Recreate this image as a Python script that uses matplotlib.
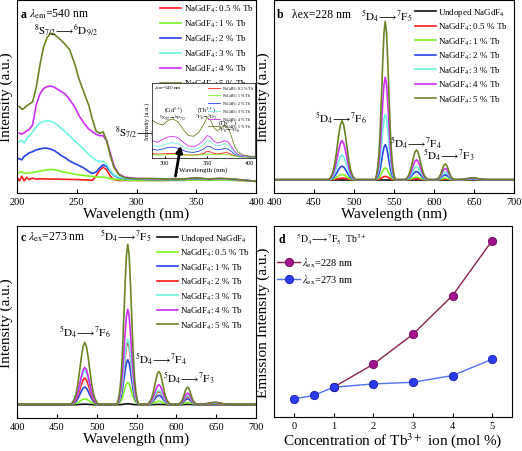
import numpy as np
import matplotlib
matplotlib.use("Agg")
from matplotlib import pyplot as plt

plt.rcParams['font.family'] = ['Liberation Serif', 'DejaVu Serif']
plt.rcParams['mathtext.fontset'] = 'stix'

# ---------------- panel a : excitation spectra (lambda_em = 540 nm) ----------------
a_x = [200, 202, 204, 206, 208, 210, 213, 216, 219, 222, 225, 228, 231, 234, 237, 240,
       244, 248, 252, 256, 260, 263, 266, 269, 272, 275, 278, 281, 285, 290, 300, 310,
       320, 330, 340, 350, 360, 370, 380, 390, 400]
a_05 = [8.2, 6.3, 8.7, 6.3, 8.1, 7.0, 7.7, 7.2, 7.4, 7.3, 7.3, 7.2, 7.2, 7.2, 7.1, 7.1,
        7.0, 7.0, 6.9, 6.8, 6.7, 6.5, 8.7, 11.7, 13.4, 12.0, 8.7, 7.0, 6.5, 6.5, 6.5, 6.5,
        6.5, 6.6, 6.6, 6.9, 6.6, 6.8, 6.6, 6.4, 6.0]
a_1 = [9.9, 10.8, 11.1, 10.1, 10.3, 10.5, 10.6, 11.0, 11.3, 11.7, 12.0, 12.2, 12.0, 11.7, 11.1, 10.8,
       10.3, 9.8, 9.4, 9.1, 8.7, 8.6, 8.4, 8.2, 8.2, 7.9, 7.4, 7.2, 6.9, 6.7, 6.5, 6.5,
       6.6, 6.6, 6.6, 6.8, 6.6, 6.7, 6.6, 6.4, 6.0]
a_2 = [18.0, 17.7, 17.2, 19.0, 19.7, 20.8, 21.4, 22.3, 22.8, 23.2, 23.2, 22.8, 22.0, 20.8, 19.4, 18.4,
       16.6, 15.3, 14.2, 12.9, 11.1, 10.1, 10.8, 12.9, 14.6, 13.7, 11.1, 9.1, 7.9, 7.4, 7.2, 7.0,
       7.0, 6.9, 7.0, 7.4, 7.0, 7.2, 7.0, 6.6, 6.1]
a_3 = [26.2, 26.6, 27.3, 25.9, 28.0, 29.3, 31.7, 34.0, 36.2, 37.0, 37.4, 37.2, 36.5, 35.2, 33.4, 31.9,
       29.7, 27.1, 25.0, 22.5, 20.1, 18.4, 17.0, 16.3, 16.5, 14.8, 11.7, 9.4, 8.2, 7.5, 7.4, 7.2,
       7.2, 7.1, 7.2, 7.6, 7.1, 7.3, 7.1, 6.6, 6.1]
a_4 = [31.4, 31.0, 30.5, 31.2, 32.1, 32.8, 35.2, 45.5, 51.1, 54.0, 55.1, 55.4, 54.9, 53.7, 52.5, 51.5,
       48.5, 44.8, 40.0, 36.2, 33.1, 31.7, 30.5, 29.7, 29.7, 27.1, 20.8, 14.2, 9.9, 8.2, 7.5, 7.4,
       7.3, 7.2, 7.3, 7.8, 7.2, 7.5, 7.3, 6.6, 6.1]
a_5 = [45.1, 44.8, 43.4, 43.9, 45.1, 46.0, 47.2, 54.5, 65.7, 75.1, 80.3, 82.8, 82.2, 80.8, 79.1, 77.2,
       74.3, 67.4, 58.8, 52.0, 45.5, 38.3, 32.2, 30.9, 31.7, 27.1, 19.4, 13.4, 9.6, 7.9, 7.4, 7.5,
       7.4, 7.2, 7.3, 7.9, 7.3, 7.6, 7.3, 6.7, 6.1]

# inset of panel a
in_x = [286, 292, 298, 304, 310, 316, 322, 328, 334, 340, 346, 350, 354, 358, 362, 366,
        370, 374, 378, 382, 386, 392, 400, 406]
in_05 = [6, 5, 5.5, 6, 6, 5.5, 4.5, 4, 4, 4.5, 6, 9, 8, 6, 5.5, 6, 7, 7, 5, 3, 2, 1.5, 1.2, 1]
in_1 = [4.5, 4, 4.3, 4.5, 4.6, 4.4, 4, 3.8, 3.7, 4, 4.5, 5.5, 5, 4.5, 4.2, 4.4, 4.8, 4.6, 3.5, 2.5,
        1.8, 1.3, 1, 0.9]
in_2 = [12, 10.5, 12, 14, 14.5, 13, 10, 8, 7.5, 9, 12, 16, 15, 12, 11, 11.5, 12.5, 12, 9, 5,
        3, 2, 1.5, 1.3]
in_3 = [17, 15, 17, 19.5, 20.5, 19, 15, 12, 11.5, 13.5, 18, 23, 22, 18, 16, 17, 19, 18, 13, 7,
        4, 2.5, 1.8, 1.5]
in_4 = [23, 21, 25, 28, 29, 27, 21, 16, 15, 18, 24, 30, 28, 22, 20, 21, 23, 22, 16, 9,
        5, 3, 2, 1.8]
in_5 = [50, 46, 44, 50, 52, 48, 38, 30, 29, 34, 45, 54, 50, 40, 36, 40, 44, 41, 30, 16,
        8, 4, 2.5, 2]

# ---------------- panels b, c : emission spectra ----------------
peak_centers = [485, 539, 578, 614, 648]
# normalised band profile, at offsets -1 .. 1 (step 1/8) of the band half-width
peak_profile = [0, 0.03, 0.08, 0.17, 0.32, 0.53, 0.75, 0.93, 1.0, 0.93, 0.75, 0.53, 0.32, 0.17, 0.08, 0.03, 0]
profile_offsets = [-1, -0.875, -0.75, -0.625, -0.5, -0.375, -0.25, -0.125, 0,
                   0.125, 0.25, 0.375, 0.5, 0.625, 0.75, 0.875, 1]

b_widths = [17, 12.5, 15, 12, 20]
b_base = [6.9, 6.9, 6.9, 6.9, 6.9, 6.9, 6.9]
b_heights = [
    [0, 0, 0, 0, 0],               # undoped
    [0.8, 1.7, 0.5, 0.3, 0.1],     # 0.5 %
    [2.7, 6.1, 1.3, 0.8, 0.2],     # 1 %
    [7.0, 18.1, 4.2, 2.5, 0.4],    # 2 %
    [12.8, 33.9, 6.8, 3.9, 0.6],   # 3 %
    [20.2, 53.1, 10.3, 5.8, 0.8],  # 4 %
    [30.5, 82.0, 15.4, 8.2, 1.0],  # 5 %
]
b_labels = ['Undoped NaGdF$_4$', 'NaGdF$_4$: 0.5 % Tb', 'NaGdF$_4$: 1 % Tb', 'NaGdF$_4$: 2 % Tb',
            'NaGdF$_4$: 3 % Tb', 'NaGdF$_4$: 4 % Tb', 'NaGdF$_4$: 5 % Tb']

c_widths = [17.5, 13.5, 15, 12, 20]
c_base = [6.9, 7.2, 7.2, 7.2, 7.2, 7.2, 7.2]
c_heights = [
    [0.3, 0.5, 0.2, 0.2, 0],       # undoped
    [2.7, 11.3, 1.5, 0.9, 0.2],    # 0.5 %
    [8.9, 23.1, 4.6, 2.8, 0.4],    # 1 %
    [13.6, 32.2, 6.6, 4.0, 0.5],   # 2 %
    [17.5, 33.8, 7.2, 4.6, 0.6],   # 3 %
    [19.1, 49.4, 10.1, 5.8, 0.8],  # 4 %
    [32.2, 83.3, 17.0, 8.9, 1.0],  # 5 %
]

# ---------------- panel d : intensity of 5D4->7F5 ----------------
conc_228 = [1, 2, 3, 4, 5]
int_228 = [15.6, 27.6, 43.3, 63.6, 92.4]
conc_273 = [0, 0.5, 1, 2, 3, 4, 5]
int_273 = [9.5, 11.3, 15.6, 17.3, 18.2, 21.7, 30.3]

RED = '#ff1a1a'
GRN = '#7cf522'
BLU = '#2342e8'
CYN = '#6cf7e0'
MAG = '#cf2cf5'
OLV = '#6b8423'
BLK = '#111111'
colors_a = [RED, GRN, BLU, CYN, MAG, OLV]
colors_b = [BLK, RED, GRN, BLU, CYN, MAG, OLV]
colors_c = [BLK, GRN, BLU, RED, CYN, MAG, OLV]


def spectrum(base, heights, widths):
    xs = [400]
    ys = [base]
    for cen, w, h in zip(peak_centers, widths, heights):
        for off, p in zip(profile_offsets, peak_profile):
            xs.append(cen + off * w)
            ys.append(base + h * p)
    xs.append(700)
    ys.append(base)
    return xs, ys


def style(ax, xlim, xticks):
    ax.set_xlim(*xlim)
    ax.set_ylim(0, 100)
    ax.set_xticks(xticks)
    ax.set_yticks([])
    ax.tick_params(axis='x', direction='in', length=3, labelsize=7.5, pad=3)
    for s in ax.spines.values():
        s.set_linewidth(0.8)


fig = plt.figure(figsize=(5.22, 4.52), dpi=100)
axa = fig.add_axes([0.0326, 0.5708, 0.458, 0.427])
axb = fig.add_axes([0.525, 0.5708, 0.4598, 0.427])
axc = fig.add_axes([0.0326, 0.073, 0.458, 0.4248])
axd = fig.add_axes([0.525, 0.0752, 0.456, 0.4226])

leg_kw = dict(frameon=False, fontsize=6.5, handlelength=2.3, handletextpad=0.3,
              labelspacing=0.42, borderaxespad=0.2, borderpad=0.1, loc='upper right')
leg_kw2 = dict(leg_kw, labelspacing=0.36, borderaxespad=0.55)

# ----- a -----
a_series = [a_05, a_1, a_2, a_3, a_4, a_5]
for ys, col, lab in zip(a_series, colors_a, b_labels[1:]):
    axa.plot(a_x, ys, color=col, lw=1.2, label=lab)
style(axa, (200, 400), [200, 250, 300, 350, 400])
axa.legend(**leg_kw)
axa.set_xlabel('Wavelength (nm)', fontsize=11, labelpad=0)
axa.set_ylabel('Intensity (a.u.)', fontsize=11, labelpad=3)
axa.text(203, 93, 'a', fontsize=8.5, fontweight='bold', va='center')
axa.text(210, 93, r'$\lambda_{\mathrm{em}}$=540 nm', fontsize=8.5, va='center')
axa.text(214, 85, r'$^{8}\mathrm{S}_{7/2}\!\longrightarrow\!^{6}\mathrm{D}_{9/2}$', fontsize=8, va='center')
axa.text(282, 31.5, r'$^{8}\mathrm{S}_{7/2}\!\longrightarrow\!^{6}\mathrm{I}_{7/2}$', fontsize=8, va='center')

# inset
axi = fig.add_axes([0.2906, 0.6482, 0.198, 0.166])
in_series = [in_05, in_1, in_2, in_3, in_4, in_5]
for ys, col, lab in zip(in_series, colors_a, b_labels[1:]):
    axi.plot(in_x, ys, color=col, lw=0.6, label=lab)
axi.set_xlim(285, 406)
axi.set_ylim(0, 100)
axi.set_xticks([300, 350, 400])
axi.set_yticks([])
axi.tick_params(axis='x', direction='in', length=1.5, labelsize=4.5, pad=1.5)
for s in axi.spines.values():
    s.set_linewidth(0.5)
axi.set_xlabel('Wavelength (nm)', fontsize=5, labelpad=0.5)
axi.set_ylabel('Intensity (a.u.)', fontsize=4.5, labelpad=1)
axi.legend(frameon=False, fontsize=2.9, handlelength=3.2, handletextpad=0.3, labelspacing=0.02,
           loc='upper right', borderaxespad=0.2, borderpad=0.1)
axi.text(288, 94, r'$\lambda_{\mathrm{em}}$=540 nm', fontsize=3.8, va='center')
axi.text(311, 64, r'(Gd$^{3+}$)', fontsize=4.3, ha='center', va='center')
axi.text(309, 55, r'$^{8}\mathrm{S}_{7/2}\!\rightarrow\!^{6}\mathrm{P}_{7/2}$', fontsize=3.8, ha='center', va='center')
axi.text(349, 64, r'(Tb$^{3+}$)', fontsize=4.3, ha='center', va='center')
axi.text(348, 56, r'$^{7}\mathrm{F}_{6}\!\rightarrow\!^{5}\mathrm{D}_{2}$', fontsize=3.8, ha='center', va='center')
axi.text(374, 47, r'(Tb$^{3+}$)', fontsize=4.3, ha='center', va='center')
axi.text(376, 39, r'$^{7}\mathrm{F}_{6}\!\rightarrow\!^{5}\mathrm{G}_{6}$', fontsize=3.8, ha='center', va='center')
arr = axi.annotate('', xy=(337.2, 25.9), xycoords=axa.transData, xytext=(332.2, 7.3),
                   textcoords=axa.transData, annotation_clip=False,
                   arrowprops=dict(arrowstyle='-|>', color='k', lw=2, mutation_scale=9))
arr.arrow_patch.set_clip_on(False)

# ----- b -----
for base, hts, col, lab in zip(b_base, b_heights, colors_b, b_labels):
    xs, ys = spectrum(base, hts, b_widths)
    axb.plot(xs, ys, color=col, lw=1.2, label=lab)
style(axb, (400, 700), [400, 450, 500, 550, 600, 650, 700])
axb.legend(**leg_kw2)
axb.set_xlabel('Wavelength (nm)', fontsize=11, labelpad=0)
axb.set_ylabel('Intensity (a.u.)', fontsize=11, labelpad=3)
axb.text(404, 93, 'b', fontsize=8.5, fontweight='bold', va='center')
axb.text(422, 93, 'λex=228 nm', fontsize=8.5, va='center')
t54 = r'$^{5}\mathrm{D}_{4}\!\longrightarrow\!^{7}\mathrm{F}_{%s}$'
axb.text(541, 92, t54 % '5', fontsize=8, ha='center', va='center')
axb.text(484, 39, t54 % '6', fontsize=8, ha='center', va='center')
axb.text(577, 26, t54 % '4', fontsize=8, ha='center', va='center')
axb.text(618, 20, t54 % '3', fontsize=8, ha='center', va='center')

# ----- c -----
for base, hts, col, lab in zip(c_base, c_heights, colors_c, b_labels):
    xs, ys = spectrum(base, hts, c_widths)
    axc.plot(xs, ys, color=col, lw=1.2, label=lab)
style(axc, (400, 700), [400, 450, 500, 550, 600, 650, 700])
axc.legend(**leg_kw2)
axc.set_xlabel('Wavelength (nm)', fontsize=11, labelpad=0)
axc.set_ylabel('Intensity (a.u.)', fontsize=11, labelpad=3)
axc.text(405, 94.5, 'c', fontsize=8.5, fontweight='bold', va='center')
axc.text(414, 94.5, r'$\lambda_{\mathrm{ex}}$=273 nm', fontsize=8.5, va='center')
axc.text(537, 95, t54 % '5', fontsize=8, ha='center', va='center')
axc.text(485, 45, t54 % '6', fontsize=8, ha='center', va='center')
axc.text(580, 31, t54 % '4', fontsize=8, ha='center', va='center')
axc.text(615, 21, t54 % '3', fontsize=8, ha='center', va='center')

# ----- d -----
axd.plot(conc_228, int_228, color='#8a2050', lw=1.0, marker='o', ms=6,
         mfc='#a3128f', mec='#6a0a5c', mew=0.6, label=r'$\lambda_{\mathrm{ex}}$=228 nm')
axd.plot(conc_273, int_273, color='#4f72f2', lw=1.0, marker='o', ms=6,
         mfc='#2b3cf0', mec='#1a1fa8', mew=0.6, label=r'$\lambda_{\mathrm{ex}}$=273 nm')
axd.set_xlim(-0.5, 5.5)
axd.set_ylim(0, 100)
axd.set_xticks([0, 1, 2, 3, 4, 5])
axd.set_yticks([])
axd.tick_params(axis='x', direction='in', length=3, labelsize=7.5, pad=3)
for s in axd.spines.values():
    s.set_linewidth(0.8)
axd.set_xlabel('Concentration of Tb$^{3+}$ ion (mol %)', fontsize=11, labelpad=0)
axd.set_ylabel('Emission Intensity (a.u.)', fontsize=11, labelpad=3)
axd.text(-0.38, 93.4, 'd', fontsize=8.5, fontweight='bold', va='center')
axd.text(0.05, 93.4, t54 % '5' + '  Tb$^{3+}$', fontsize=7, va='center')
axd.legend(frameon=False, fontsize=7.5, handlelength=2.2, handletextpad=0.2, labelspacing=0.3,
           loc='upper left', bbox_to_anchor=(0.0, 0.86), borderaxespad=0.2, borderpad=0.1)

fig.savefig('out.png', dpi=100)
